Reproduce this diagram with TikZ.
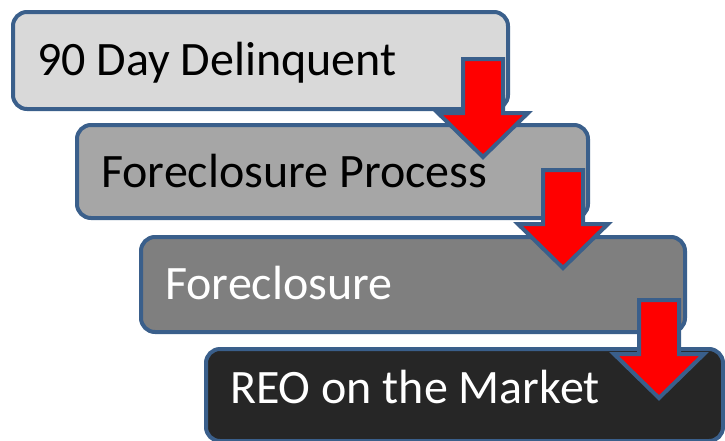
\documentclass[tikz,border=0pt]{standalone}
\usepackage{fontspec}
\setmainfont{Carlito}
\definecolor{edgeblue}{HTML}{3A5F8B}
\definecolor{stepone}{HTML}{D9D9D9}
\definecolor{steptwo}{HTML}{A6A6A6}
\definecolor{stepthree}{HTML}{7F7F7F}
\definecolor{stepfour}{HTML}{262626}
\tikzset{
  stage/.style={draw=edgeblue,line width=4pt,rounded corners=14pt,
    anchor=north west,inner sep=0pt},
  stagetext/.style={anchor=base west,inner sep=0pt,
    font=\fontsize{48}{58}\selectfont},
  pics/drop/.style={code={
    \draw[draw=edgeblue,fill=red,line width=4pt,line join=miter]
      (-20,0) -- (20,0) -- (20,54) -- (45,54) -- (0,98)
      -- (-45,54) -- (-20,54) -- cycle;
  }}
}

\begin{document}
\begin{tikzpicture}[x=1pt,y=-1pt]
\useasboundingbox (0,0) rectangle (725,440);
% the four stages
\node[stage,fill=stepone,minimum width=495pt,minimum height=97pt]
  (delinquent) at (11,10) {};
\node[stage,fill=steptwo,minimum width=511pt,minimum height=93pt]
  (process) at (75,123) {};
\node[stage,fill=stepthree,minimum width=544pt,minimum height=95pt]
  (foreclosure) at (139,235) {};
\node[stage,fill=stepfour,minimum width=517pt,minimum height=92pt]
  (reo) at (204,347) {};
% labels
\node[stagetext] (delinquentlabel) at (37,75) {90 Day Delinquent};
\node[stagetext] (processlabel) at (101,187) {Foreclosure Process};
\node[stagetext,text=white] (foreclosurelabel) at (165,299)
  {Foreclosure};
\node[stagetext,text=white] (reolabel) at (230,403) {REO on the Market};
% arrows between stages
\pic at (483,59) {drop};
\pic at (563,170) {drop};
\pic at (659,300) {drop};
\end{tikzpicture}
\end{document}
